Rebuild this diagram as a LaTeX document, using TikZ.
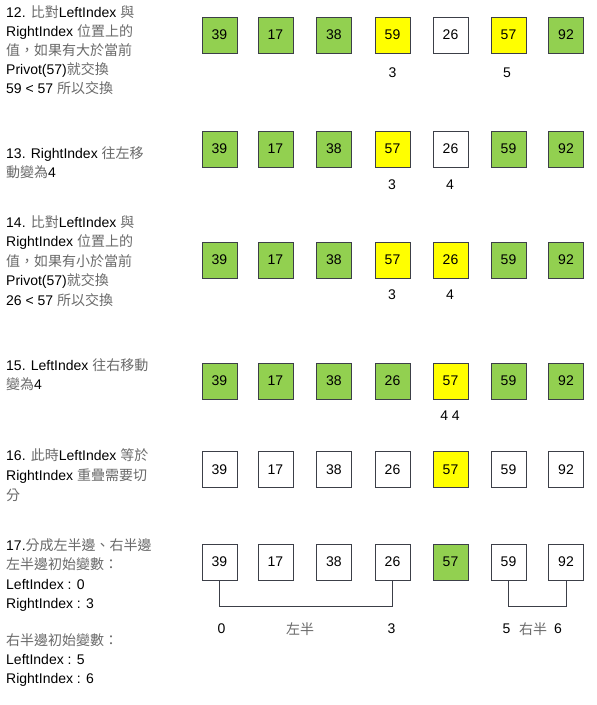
\documentclass[tikz,border=0pt]{standalone}
\usepackage{fontspec}
\setmainfont{Liberation Sans}
\newfontfamily\cjk{Noto Sans CJK TC}
\definecolor{boxgreen}{HTML}{92D050}
\definecolor{boxyellow}{HTML}{FFFF00}
\definecolor{cjkgray}{HTML}{6A6A6A}
\definecolor{edge}{HTML}{3C3F48}
\newcommand{\Cj}[1]{{\cjk\color{cjkgray}#1}}
\begin{document}
\begin{tikzpicture}[x=1pt,y=-1pt,
  txt/.style={anchor=base west,inner sep=0pt,font=\fontsize{14}{16}\selectfont},
  cell/.style={draw=edge,line width=0.8pt,minimum width=35pt,minimum height=36pt,inner sep=0pt,font=\fontsize{14}{16}\selectfont},
  gcell/.style={cell,fill=boxgreen},
  ycell/.style={cell,fill=boxyellow},
  wcell/.style={cell,fill=white},
  idx/.style={inner sep=0pt,font=\fontsize{14}{16}\selectfont},
  brk/.style={draw=edge,line width=0.8pt}]
\useasboundingbox (0,0) rectangle (597,705);
\fill[white] (0,0) rectangle (597,705);

% ---------- texts ----------
\node[txt] (t12a) at (6,17) {12. \Cj{比對}LeftIndex \Cj{與}};
\node[txt] (t12b) at (6,36.2) {RightIndex \Cj{位置上的}};
\node[txt] (t12c) at (6,55.4) {\Cj{值，如果有大於當前}};
\node[txt] (t12d) at (6,74.6) {Privot(57)\Cj{就交換}};
\node[txt] (t12e) at (6,93.8) {59 < 57 \Cj{所以交換}};

\node[txt] (t13a) at (6,158) {13. RightIndex \Cj{往左移}};
\node[txt] (t13b) at (6,177.5) {\Cj{動變為}4};

\node[txt] (t14a) at (6,227) {14. \Cj{比對}LeftIndex \Cj{與}};
\node[txt] (t14b) at (6,246.5) {RightIndex \Cj{位置上的}};
\node[txt] (t14c) at (6,266) {\Cj{值，如果有小於當前}};
\node[txt] (t14d) at (6,285.5) {Privot(57)\Cj{就交換}};
\node[txt] (t14e) at (6,305) {26 < 57 \Cj{所以交換}};

\node[txt] (t15a) at (6,370) {15. LeftIndex \Cj{往右移動}};
\node[txt] (t15b) at (6,389.5) {\Cj{變為}4};

\node[txt] (t16a) at (6,460) {16. \Cj{此時}LeftIndex \Cj{等於}};
\node[txt] (t16b) at (6,480) {RightIndex \Cj{重疊需要切}};
\node[txt] (t16c) at (6,500) {\Cj{分}};

\node[txt] (t17a) at (6,550) {17.\Cj{分成左半邊、右半邊}};
\node[txt] (t17b) at (6,569.5) {\Cj{左半邊初始變數：}};
\node[txt] (t17c) at (6,589) {LeftIndex : 0};
\node[txt] (t17d) at (6,608.5) {RightIndex : 3};
\node[txt] (t17e) at (6,645) {\Cj{右半邊初始變數：}};
\node[txt] (t17f) at (6,664) {LeftIndex : 5};
\node[txt] (t17g) at (6,683) {RightIndex : 6};

% ---------- row 1 (y=35) ----------
\node[gcell] (a1) at (219.5,35) {39};
\node[gcell] (a2) at (275.5,35) {17};
\node[gcell] (a3) at (334,35) {38};
\node[ycell] (a4) at (392.5,35) {59};
\node[wcell] (a5) at (450.5,35) {26};
\node[ycell] (a6) at (508.5,35) {57};
\node[gcell] (a7) at (566,35) {92};
\node[idx] (a4i) at (392.5,73) {3};
\node[idx] (a6i) at (507,73) {5};

% ---------- row 2 (y=149) ----------
\node[gcell] (b1) at (219.5,149) {39};
\node[gcell] (b2) at (275.5,149) {17};
\node[gcell] (b3) at (334,149) {38};
\node[ycell] (b4) at (392.5,149) {57};
\node[wcell] (b5) at (450.5,149) {26};
\node[gcell] (b6) at (508.5,149) {59};
\node[gcell] (b7) at (566,149) {92};
\node[idx] (b4i) at (392,185) {3};
\node[idx] (b5i) at (450,185) {4};

% ---------- row 3 (y=260) ----------
\node[gcell] (c1) at (219.5,260) {39};
\node[gcell] (c2) at (275.5,260) {17};
\node[gcell] (c3) at (334,260) {38};
\node[ycell] (c4) at (392.5,260) {57};
\node[ycell] (c5) at (450.5,260) {26};
\node[gcell] (c6) at (508.5,260) {59};
\node[gcell] (c7) at (566,260) {92};
\node[idx] (c4i) at (392,295) {3};
\node[idx] (c5i) at (450,295) {4};

% ---------- row 4 (y=381) ----------
\node[gcell] (d1) at (219.5,381) {39};
\node[gcell] (d2) at (275.5,381) {17};
\node[gcell] (d3) at (334,381) {38};
\node[gcell] (d4) at (392.5,381) {26};
\node[ycell] (d5) at (450.5,381) {57};
\node[gcell] (d6) at (508.5,381) {59};
\node[gcell] (d7) at (566,381) {92};
\node[idx] (d5i) at (450,416) {4 4};

% ---------- row 5 (y=469.5) ----------
\node[wcell] (e1) at (219.5,469.5) {39};
\node[wcell] (e2) at (275.5,469.5) {17};
\node[wcell] (e3) at (334,469.5) {38};
\node[wcell] (e4) at (392.5,469.5) {26};
\node[ycell] (e5) at (450.5,469.5) {57};
\node[wcell] (e6) at (508.5,469.5) {59};
\node[wcell] (e7) at (566,469.5) {92};

% ---------- row 6 (y=562) ----------
\node[wcell] (f1) at (219.5,562) {39};
\node[wcell] (f2) at (275.5,562) {17};
\node[wcell] (f3) at (334,562) {38};
\node[wcell] (f4) at (392.5,562) {26};
\node[gcell] (f5) at (450.5,562) {57};
\node[wcell] (f6) at (508.5,562) {59};
\node[wcell] (f7) at (566,562) {92};

\draw[brk] (f1.south) -- ++(0,26) -| (f4.south);
\draw[brk] (f6.south) -- ++(0,26) -| (f7.south);

\node[idx] (l0) at (221.5,629) {0};
\node[idx] (lL) at (300,629) {\Cj{左半}};
\node[idx] (l3) at (391.5,629) {3};
\node[idx] (l5) at (506.5,629) {5};
\node[idx] (lR) at (533,629) {\Cj{右半}};
\node[idx] (l6) at (558,629) {6};
\end{tikzpicture}
\end{document}
